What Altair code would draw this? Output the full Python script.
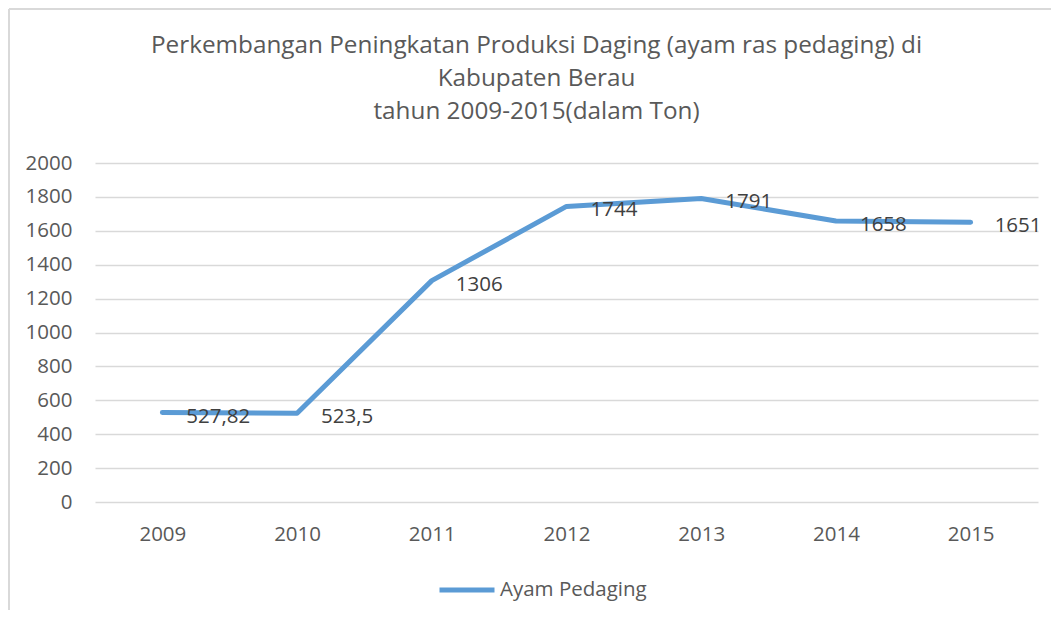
import altair as alt
import pandas as pd

years = ["2009", "2010", "2011", "2012", "2013", "2014", "2015"]
values = [527.82, 523.5, 1306, 1744, 1791, 1658, 1651]
labels = ["527,82", "523,5", "1306", "1744", "1791", "1658", "1651"]
series = "Ayam Pedaging"
title_lines = [
    "Perkembangan Peningkatan Produksi Daging (ayam ras pedaging) di",
    "Kabupaten Berau",
    "tahun 2009-2015(dalam Ton)",
]
y_ticks = list(range(0, 2001, 200))

df = pd.DataFrame({"year": years, "value": values, "label": labels, "series": [series] * len(years)})

FONT = "Open Sans"
FS = 20.5
W, H = 943, 339

x_enc = alt.X("year:N", sort=years, scale=alt.Scale(type="point", padding=0.5),
              axis=alt.Axis(title=None, labelAngle=0, domain=False, ticks=False, grid=False,
                            labelPadding=22, labelFontSize=FS, labelColor="#595959", labelFont=FONT))
y_enc = alt.Y("value:Q", scale=alt.Scale(domain=[0, 2000], nice=False),
              axis=alt.Axis(title=None, values=y_ticks, format="d", labelOverlap=False,
                            domain=False, ticks=False, grid=True,
                            gridColor="#D9D9D9", gridWidth=1.3, labelPadding=23, labelFontSize=FS,
                            labelColor="#595959", labelFont=FONT))

base = alt.Chart(df)

line = base.mark_line(strokeWidth=5, strokeCap="round", strokeJoin="round").encode(
    x=x_enc, y=y_enc,
    color=alt.Color("series:N", scale=alt.Scale(range=["#5B9BD5"]),
                    legend=alt.Legend(title=None, orient="none", legendX=342, legendY=397,
                                      symbolType="stroke", symbolSize=3025, symbolStrokeWidth=5,
                                      labelFontSize=FS, labelColor="#595959", labelFont=FONT,
                                      labelOffset=3)),
)

text = base.mark_text(align="left", baseline="middle", dx=24, dy=4, fontSize=FS,
                      color="#404040", font=FONT).encode(
    x=x_enc, y=y_enc, text="label:N")

frame_left = alt.Chart(df).mark_rule(color="#D9D9D9", strokeWidth=2).encode(
    x=alt.value(-86), y=alt.value(-154), y2=alt.value(470))
frame_top = alt.Chart(df).mark_rule(color="#D9D9D9", strokeWidth=2).encode(
    x=alt.value(-86), x2=alt.value(970), y=alt.value(-154))

chart = alt.layer(frame_left, frame_top, line, text).properties(
    width=W, height=H,
    padding={"left": 87, "top": 155, "right": 13, "bottom": 108},
    autosize=alt.AutoSizeParams(type="none"),
    title=alt.TitleParams(text=title_lines, anchor="middle", frame="group", dx=-30, offset=-116,
                          fontSize=24.3, font=FONT, fontWeight="normal", color="#595959",
                          lineHeight=33),
).configure_view(stroke=None)

chart.save("out.html", embed_options={"renderer": "svg", "actions": False})
